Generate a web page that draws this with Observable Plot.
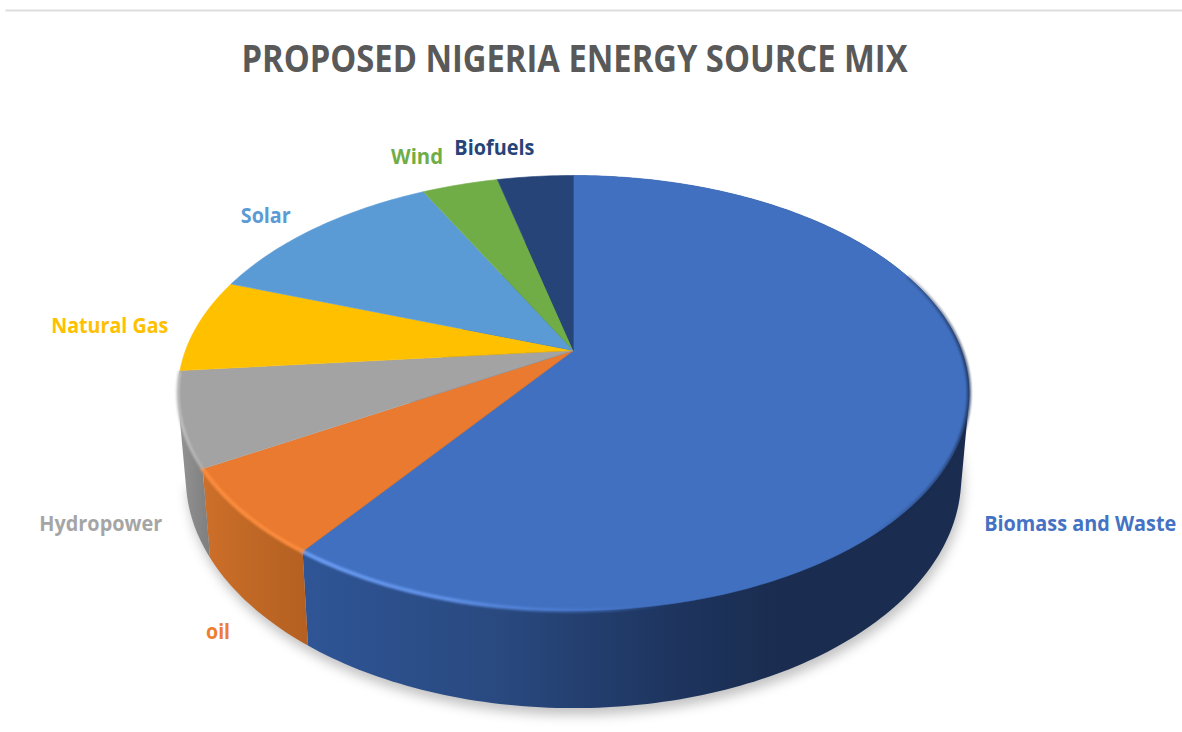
<!DOCTYPE html>
<html>
<head>
<meta charset="utf-8">
<script src="https://cdn.jsdelivr.net/npm/d3@7"></script>
<script src="https://cdn.jsdelivr.net/npm/@observablehq/plot@0.6"></script>
<style>
  html, body { margin: 0; background: #fff; }
  svg { display: block; }
</style>
</head>
<body>
<div id="chart"></div>
<script>
const chartTitle = "PROPOSED NIGERIA ENERGY SOURCE MIX";

// Energy sources, clockwise from twelve o'clock, with their percentage shares.
const sources = ["Biomass and Waste", "oil", "Hydropower", "Natural Gas", "Solar", "Wind", "Biofuels"];
const shares = [60, 6.5, 7, 7, 12, 3.75, 3.75];
const faceColors = ["#4170c0", "#e97a2f", "#a3a3a3", "#ffc000", "#5b9bd5", "#70ad47", "#264478"];
const labelColors = ["#4472c4", "#ed7d31", "#a5a5a5", "#ffc000", "#5b9bd5", "#70ad47", "#264478"];

// Label placement relative to the midpoint of each slice's rim, and rendered text widths.
const labelDx = [114, -25, -80, -88, -50, -43, -41];
const labelDy = [105, 120, 105, 1.5, -12, -27, -28];
const labelWidths = [192, 24, 123, 117, 50, 52, 80];

// Perspective tilt of the disc: the far edge is foreshortened, the near edge enlarged.
const tilt = 0.1954;
const wallDrop = 0.392;     // offset of the lower rim, in y units
const baseScaleX = 0.98;    // the lower rim is slightly narrower than the upper
const baseScaleY = 1.06;    // and its near edge sits a little further down

const project = deg => {
  const a = deg * Math.PI / 180;
  const w = 1 + tilt * Math.cos(a);
  return {x: Math.sin(a) / w, y: Math.cos(a) / w};
};
const lower = p => ({x: p.x * baseScaleX, y: p.y * baseScaleY - wallDrop});
const arc = (from, to) => {
  const n = Math.max(2, Math.ceil(Math.abs(to - from)));
  return d3.range(n + 1).map(i => project(from + (to - from) * i / n));
};

// Cumulative angles for each slice.
const total = d3.sum(shares);
let running = 0;
const slices = sources.map((name, i) => {
  const start = running / total * 360;
  running += shares[i];
  const end = running / total * 360;
  return {name, i, start, end, mid: (start + end) / 2};
});

// Gradients for the side wall and the bevelled rim.
const gradient = (defs, id, stops) => {
  const g = defs.append("linearGradient").attr("id", id).attr("x1", 0).attr("x2", 1).attr("y1", 0).attr("y2", 0);
  for (const [offset, color, opacity = 1] of stops) {
    g.append("stop").attr("offset", offset).attr("stop-color", color).attr("stop-opacity", opacity);
  }
};
const gradientDefs = () => {
  const defs = d3.create("svg:defs");
  gradient(defs, "wall-biomass", [[0, "#2f5596"], [0.3, "#29497f"], [0.52, "#1f3763"], [0.72, "#1a2c4f"], [1, "#1a2c4f"]]);
  gradient(defs, "wall-oil", [[0, "#cd6f2a"], [0.5, "#bf6725"], [1, "#b46022"]]);
  gradient(defs, "wall-hydro", [[0, "#949494"], [1, "#7e7e7e"]]);
  gradient(defs, "rim-biomass", [[0, "#6a9cf2"], [0.22, "#5f90e6"], [0.46, "#4a7ad0", 0.5], [0.55, "#4170c0", 0], [0.85, "#1a2c4f", 0], [1, "#1a2c4f", 0.7]]);
  gradient(defs, "rim-hydro", [[0, "#c4c4c4"], [1, "#b0b0b0"]]);
  return defs.node();
};

// Side walls are only drawn for the slices that face the viewer. The convex hull
// of both rims gives the outer silhouette, including the tangent at the widest point.
const wallFills = {"Biomass and Waste": "url(#wall-biomass)", "oil": "url(#wall-oil)", "Hydropower": "url(#wall-hydro)"};
const walls = slices.filter(s => wallFills[s.name]).map(s => {
  const top = arc(s.start, s.end);
  const hull = d3.polygonHull([...top, ...top.map(lower)].map(p => [p.x, p.y]));
  return Plot.line([...hull, hull[0]].map(([x, y]) => ({x, y})), {
    x: "x", y: "y", fill: wallFills[s.name], stroke: "none"
  });
});

// Soft drop shadow below the base of the disc.
const shadow = Plot.line(arc(70, 258).map(lower), {
  x: "x", y: "y", dy: 7, dx: 2, fill: "#000", fillOpacity: 0.24, stroke: "none", imageFilter: "blur(6px)"
});

const faces = slices.map(s => Plot.line([{x: 0, y: 0}, ...arc(s.start, s.end)], {
  x: "x", y: "y", fill: faceColors[s.i], stroke: faceColors[s.i], strokeWidth: 0.6
}));

// Bevel highlight running along the near edge of the top face.
const rims = [
  Plot.line(arc(216, 68), {x: "x", y: "y", stroke: "url(#rim-biomass)", strokeWidth: 4, imageFilter: "blur(1.2px)"}),
  Plot.line(arc(216, 239.4), {x: "x", y: "y", stroke: "#fb8c3e", strokeWidth: 4, imageFilter: "blur(1.2px)"}),
  Plot.line(arc(239.4, 264), {x: "x", y: "y", stroke: "url(#rim-hydro)", strokeWidth: 3, imageFilter: "blur(1.2px)"})
];

const labelFont = {fontFamily: "'Open Sans', sans-serif", fontWeight: 700};
const labels = slices.map(s => {
  const p = project(s.mid);
  return Plot.text([s.name], {
    x: () => p.x, y: () => p.y, text: d => d,
    dx: labelDx[s.i], dy: labelDy[s.i],
    fill: labelColors[s.i], fontSize: 20.5, ...labelFont
  });
});

const plot = Plot.plot({
  width: 1182,
  height: 732,
  marginTop: 10,
  marginLeft: 6,
  marginRight: 0,
  marginBottom: 0,
  style: {background: "#fff"},
  x: {axis: null, domain: [-1, 1], range: [185, 961]},
  y: {axis: null, domain: [-1, 1], range: [559.2, 140.8]},
  marks: [
    gradientDefs,
    Plot.frame({anchor: "top", stroke: "#dedede", strokeWidth: 2}),
    Plot.text([chartTitle], {
      frameAnchor: "top-left", dx: 568, dy: 49.5, lineAnchor: "middle", textAnchor: "middle",
      fill: "#595959", fontSize: 37, ...labelFont
    }),
    shadow,
    ...walls,
    ...faces,
    ...rims,
    ...labels
  ]
});

// Fit each text run to its intended width.
const widths = new Map([[chartTitle, 666], ...sources.map((s, i) => [s, labelWidths[i]])]);
d3.select(plot).selectAll("text").each(function () {
  const w = widths.get(this.textContent);
  if (w) d3.select(this).attr("textLength", w).attr("lengthAdjust", "spacingAndGlyphs");
});

document.getElementById("chart").append(plot);
</script>
</body>
</html>
